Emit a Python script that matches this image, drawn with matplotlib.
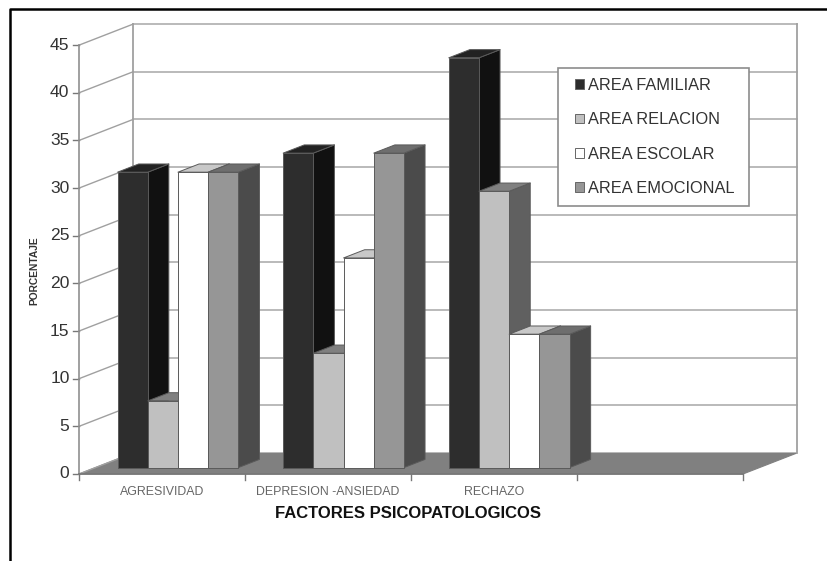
import matplotlib
matplotlib.use("Agg")
import matplotlib.pyplot as plt
from matplotlib.patches import Polygon, Patch, Rectangle
from matplotlib.lines import Line2D

categories = ["AGRESIVIDAD", "DEPRESION -ANSIEDAD", "RECHAZO", ""]
series_names = ["AREA FAMILIAR", "AREA RELACION", "AREA ESCOLAR", "AREA EMOCIONAL"]
familiar = [31, 33, 43]
relacion = [7, 12, 29]
escolar = [31, 22, 14]
emocional = [31, 33, 14]
y_ticks = [0, 5, 10, 15, 20, 25, 30, 35, 40, 45]

series = [familiar, relacion, escolar, emocional]
front_colors = ["#2d2d2d", "#c0c0c0", "#ffffff", "#969696"]
top_colors = ["#222222", "#808080", "#c8c8c8", "#6e6e6e"]
side_colors = ["#111111", "#606060", "#c0c0c0", "#4b4b4b"]
edge = "#5a5a5a"
grid = "#b4b4b4"

W, H = 827, 561
X0, Y0 = 79, 474          # pixel of the front axis origin
PX_CAT, PX_VAL = 166, 9.53
DX = 54 / PX_CAT          # depth shift in data units
DY = 21 / PX_VAL

fig = plt.figure(figsize=(W / 100, H / 100), dpi=100, facecolor="white")
ax = fig.add_axes([0, 0, 1, 1])
ax.set_xlim(-X0 / PX_CAT, (W - X0) / PX_CAT)
ax.set_ylim(-(H - Y0) / PX_VAL, Y0 / PX_VAL)
ax.axis("off")
plt.rcParams["font.family"] = "Liberation Sans"

n_cat = len(categories)
ymax = y_ticks[-1]

# frame
fig.add_artist(Line2D([9.5 / W, 9.5 / W, 1], [0, 1 - 8.5 / H, 1 - 8.5 / H], color="black", lw=1.8))

# floor
ax.add_patch(Polygon([(0, 0), (n_cat, 0), (n_cat + DX, DY), (DX, DY)], fc="#808080", ec="#808080", lw=0.8, zorder=1))

# walls and grid
for v in y_ticks:
    if v > 0:
        ax.plot([DX, n_cat + DX], [v + DY, v + DY], color=grid, lw=1.3, zorder=1)
    ax.plot([0, DX], [v, v + DY], color="#a0a0a0", lw=1.0, zorder=1)
    ax.plot([-6 / PX_CAT, 0], [v, v], color="#777777", lw=1.0, zorder=1)
    ax.text(-9.5 / PX_CAT, v, str(v), ha="right", va="center", fontsize=12.6, color="#333333")
ax.plot([DX, DX], [DY, ymax + DY], color="#a0a0a0", lw=1.3, zorder=1)
ax.plot([n_cat + DX, n_cat + DX], [DY, ymax + DY], color="#a0a0a0", lw=1.3, zorder=1)
ax.plot([0, 0], [0, ymax], color="#909090", lw=1.2, zorder=1)
ax.plot([0, n_cat], [0, 0], color="#777777", lw=1.2, zorder=2)

for i in range(n_cat + 1):
    ax.plot([i, i], [0, -6 / PX_VAL], color="#777777", lw=1.0, zorder=1)
for i, c in enumerate(categories):
    ax.text(i + 0.5, -18 / PX_VAL, c, ha="center", va="center", fontsize=8.9, color="#666666")

# bars
t0, t1 = 0.305, 0.695
bar_w = 30.2 / PX_CAT
z = 3
for c in range(3):
    left = c * 165.6 / PX_CAT + 0.5 - 2 * bar_w - 0.5 / PX_CAT
    for s, vals in enumerate(series):
        v = vals[c]
        x0 = left + s * bar_w
        x1 = x0 + bar_w
        fx, fy = DX * t0, DY * t0
        bx, by = DX * t1, DY * t1
        kw = dict(ec=edge, lw=0.7, zorder=z, joinstyle="round")
        ax.add_patch(Polygon([(x1 + fx, fy), (x1 + bx, by), (x1 + bx, v + by), (x1 + fx, v + fy)], fc=side_colors[s], **kw))
        ax.add_patch(Polygon([(x0 + fx, v + fy), (x1 + fx, v + fy), (x1 + bx, v + by), (x0 + bx, v + by)], fc=top_colors[s], **kw))
        ax.add_patch(Polygon([(x0 + fx, fy), (x1 + fx, fy), (x1 + fx, v + fy), (x0 + fx, v + fy)], fc=front_colors[s], **kw))
        z += 1

# axis titles
ax.text((408 - X0) / PX_CAT, -39.5 / PX_VAL, "FACTORES PSICOPATOLOGICOS",
        ha="center", va="center", fontsize=12.0, fontweight="bold", color="#111111")
ax.text((34 - X0) / PX_CAT, (Y0 - 271) / PX_VAL, "PORCENTAJE", rotation=90,
        ha="center", va="center", fontsize=7.4, fontweight="bold", color="#333333")

# legend
ax.add_patch(Rectangle(((558 - X0) / PX_CAT, (Y0 - 206) / PX_VAL), 191 / PX_CAT, 138 / PX_VAL,
                       fc="white", ec="#8c8c8c", lw=1.2, zorder=100))
handles = [Patch(fc=f, ec="#666666", lw=0.7) for f in front_colors]
leg = ax.legend(handles, series_names, loc="upper left",
                bbox_to_anchor=(575 / W, 1 - 78 / H), bbox_transform=fig.transFigure,
                fontsize=11.8, frameon=False, labelcolor="#333333",
                handlelength=0.55, handleheight=0.55, handletextpad=0.25,
                labelspacing=1.18, borderpad=0, borderaxespad=0)
leg.set_zorder(101)

fig.savefig("out.png", dpi=100)
